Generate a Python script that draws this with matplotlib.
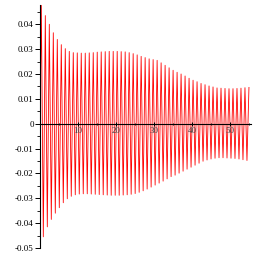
import numpy as np
import matplotlib
matplotlib.use('Agg')
import matplotlib.pyplot as plt
from matplotlib.ticker import MultipleLocator, FixedLocator

# one oscillation per ~1.05 time units, peak values
period = 1.05
first_peak = 0.35

upper_peaks = [0.0476, 0.0435, 0.0400, 0.0366, 0.0339, 0.0318, 0.0302, 0.0291,
               0.0286, 0.0285, 0.0284, 0.0284, 0.0285, 0.0286, 0.0288, 0.0289,
               0.0290, 0.0291, 0.0291, 0.0291, 0.0290, 0.0289, 0.0286, 0.0282,
               0.0277, 0.0271, 0.0266, 0.0261, 0.0258, 0.0255, 0.0245, 0.0235,
               0.0225, 0.0215, 0.0207, 0.0200, 0.0192, 0.0183, 0.0175, 0.0169,
               0.0162, 0.0157, 0.0152, 0.0148, 0.0144, 0.0143, 0.0142, 0.0141,
               0.0141, 0.0142, 0.0143, 0.0145, 0.0146]

lower_peaks = [-0.0455, -0.0415, -0.0385, -0.0360, -0.0338, -0.0318, -0.0302, -0.0292,
               -0.0286, -0.0283, -0.0282, -0.0282, -0.0283, -0.0284, -0.0285, -0.0286,
               -0.0287, -0.0288, -0.0288, -0.0288, -0.0287, -0.0286, -0.0284, -0.0281,
               -0.0276, -0.0270, -0.0263, -0.0255, -0.0247, -0.0239, -0.0231, -0.0222,
               -0.0213, -0.0207, -0.0199, -0.0191, -0.0183, -0.0175, -0.0167, -0.0159,
               -0.0151, -0.0146, -0.0142, -0.0139, -0.0137, -0.0137, -0.0138, -0.0139,
               -0.0140, -0.0142, -0.0145, -0.0148]

x_ticks = [10, 20, 30, 40, 50]
y_ticks = [-0.05, -0.04, -0.03, -0.02, -0.01, 0, 0.01, 0.02, 0.03, 0.04]

# interleave peaks and troughs
t = [0.0]
y = [0.0]
for k in range(len(upper_peaks)):
    t.append(first_peak + k * period)
    y.append(upper_peaks[k])
    if k < len(lower_peaks):
        t.append(first_peak + (k + 0.5) * period)
        y.append(lower_peaks[k])

fig = plt.figure(figsize=(2.72, 2.57), dpi=100)
ax = fig.add_axes([0.147, 0.035, 0.776, 0.946])
ax.plot(t, y, color='#ff0000', lw=0.6, zorder=1)

ax.set_xlim(0, 55.5)
ax.set_ylim(-0.05, 0.0478)

for s in ['top', 'right']:
    ax.spines[s].set_visible(False)
ax.spines['left'].set_position(('data', 0))
ax.spines['bottom'].set_position(('data', 0))
ax.spines['left'].set_zorder(3)
ax.spines['bottom'].set_zorder(3)
ax.spines['left'].set_linewidth(0.8)
ax.spines['bottom'].set_linewidth(0.8)

ax.xaxis.set_major_locator(FixedLocator(x_ticks))
ax.xaxis.set_minor_locator(MultipleLocator(5))
ax.yaxis.set_major_locator(FixedLocator(y_ticks))
ax.yaxis.set_minor_locator(MultipleLocator(0.005))

ax.set_yticklabels(['-0.05' if v == -0.05 else ('0' if v == 0 else '%.2f' % v) for v in y_ticks])
ax.set_xticklabels([str(v) for v in x_ticks])

font = dict(family='Liberation Serif', size=6.5)
for lab in ax.get_yticklabels():
    lab.set_fontfamily(font['family'])
    lab.set_fontsize(font['size'])
for lab in ax.get_xticklabels():
    lab.set_fontfamily(font['family'])
    lab.set_fontsize(font['size'])
    lab.set_color('#444444')

ax.tick_params(axis='y', which='major', direction='out', length=3.5, width=0.7, pad=1)
ax.tick_params(axis='y', which='minor', direction='out', length=2, width=0.6)
ax.tick_params(axis='x', which='major', direction='inout', length=3, width=0.7, pad=1)
ax.tick_params(axis='x', which='minor', direction='inout', length=2, width=0.6)

fig.savefig('out.png', dpi=100)
